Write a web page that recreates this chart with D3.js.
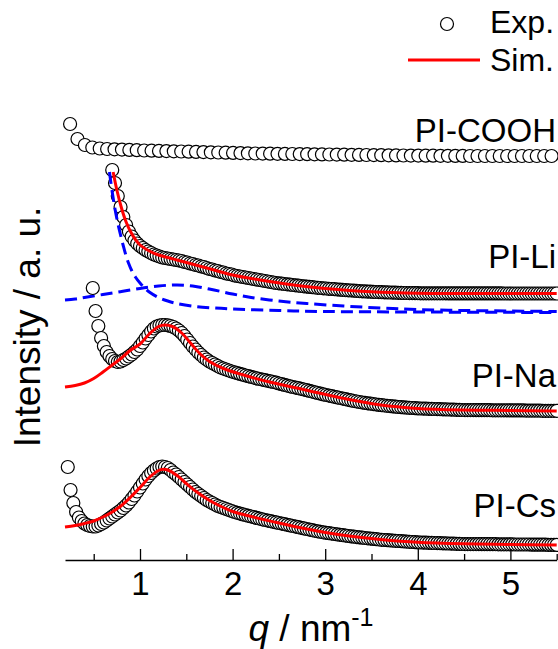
<!DOCTYPE html>
<html>
<head>
<meta charset="utf-8">
<script src="https://cdn.jsdelivr.net/npm/d3@7/dist/d3.min.js"></script>
<style>
body{margin:0;background:#fff;}
svg text{font-family:"Liberation Sans",Arial,sans-serif;fill:#000;}
</style>
</head>
<body>
<div class="plot"></div>
<script>
// q grid of the dense scans (nm^-1)
var qExp=[0.22,0.25,0.28,0.31,0.34,0.37,0.40,0.43,0.46,0.49,
  0.52,0.55,0.58,0.61,0.64,0.67,0.70,0.73,0.76,0.79,
  0.82,0.85,0.88,0.91,0.94,0.97,1.00,1.03,1.06,1.09,
  1.12,1.15,1.18,1.21,1.24,1.27,1.30,1.33,1.36,1.39,
  1.42,1.45,1.48,1.51,1.54,1.57,1.60,1.63,1.66,1.69,
  1.72,1.75,1.78,1.81,1.84,1.87,1.90,1.93,1.96,1.99,
  2.02,2.05,2.08,2.11,2.14,2.17,2.20,2.23,2.26,2.29,
  2.32,2.35,2.38,2.41,2.44,2.47,2.50,2.53,2.56,2.59,
  2.62,2.65,2.68,2.71,2.74,2.77,2.80,2.83,2.86,2.89,
  2.92,2.95,2.98,3.01,3.04,3.07,3.10,3.13,3.16,3.19,
  3.22,3.25,3.28,3.31,3.34,3.37,3.40,3.43,3.46,3.49,
  3.52,3.55,3.58,3.61,3.64,3.67,3.70,3.73,3.76,3.79,
  3.82,3.85,3.88,3.91,3.94,3.97,4.00,4.03,4.06,4.09,
  4.12,4.15,4.18,4.21,4.24,4.27,4.30,4.33,4.36,4.39,
  4.42,4.45,4.48,4.51,4.54,4.57,4.60,4.63,4.66,4.69,
  4.72,4.75,4.78,4.81,4.84,4.87,4.90,4.93,4.96,4.99,
  5.02,5.05,5.08,5.11,5.14,5.17,5.20,5.23,5.26,5.29,
  5.32,5.35,5.38,5.41,5.44,5.47,5.50];

// PI-COOH scan (coarser grid)
var qCooh=[0.245,0.325,0.405,0.485,0.565,0.645,0.725,0.805,0.885,0.965,
  1.045,1.125,1.205,1.285,1.365,1.445,1.525,1.605,1.685,1.765,
  1.845,1.925,2.005,2.085,2.165,2.245,2.325,2.405,2.485,2.565,
  2.645,2.725,2.805,2.885,2.965,3.045,3.125,3.205,3.285,3.365,
  3.445,3.525,3.605,3.685,3.765,3.845,3.925,4.005,4.085,4.165,
  4.245,4.325,4.405,4.485,4.565,4.645,4.725,4.805,4.885,4.965,
  5.045,5.125,5.205,5.285,5.365,5.445];
var coohExp=[436,421,415,412.5,411.5,411,410.7,410.4,410.1,409.8,
  409.5,409.3,409.1,408.9,408.7,408.5,408.3,408.1,407.9,407.7,
  407.5,407.3,407.1,406.9,406.7,406.5,406.4,406.3,406.2,406.1,
  406,405.9,405.8,405.7,405.6,405.5,405.4,405.3,405.2,405.1,
  405,404.9,404.8,404.7,404.6,404.5,404.4,404.4,404.3,404.3,
  404.2,404.2,404.1,404.1,404,404,404,404,404,404,
  404,404,404,404,404,404];

// PI-Li, starts at q = 0.70
var liStart=0.70;
var liExp=[390,377,364,353,
  343,335,328.5,323.5,319.5,316.5,314,312,310,308.5,
  307,305.5,304.5,303.5,302.5,302,301.5,301,300.5,300,
  299.5,299,298,297.5,296.5,296,295,294.5,293.5,293,
  292,291,290.5,289.5,289,288,287.5,286.5,286,285.5,
  284.5,284,283.5,283,282.5,282,281.5,281,280.5,280,
  279.5,279,278.5,278,277.5,277,276.7,276.4,276,275.7,
  275.4,275,274.7,274.4,274,273.7,273.4,273.1,272.8,272.5,
  272.2,272,271.7,271.5,271.2,271,270.8,270.5,270.3,270.1,
  269.9,269.7,269.5,269.3,269.1,268.9,268.7,268.6,268.4,268.3,
  268.1,268,267.9,267.8,267.7,267.6,267.5,267.4,267.3,267.2,
  267.1,267,267,266.9,266.9,266.8,266.8,266.7,266.7,266.7,
  266.7,266.7,266.7,266.7,266.7,266.7,266.7,266.6,266.6,266.6,
  266.6,266.6,266.6,266.6,266.6,266.6,266.6,266.6,266.6,266.6,
  266.6,266.6,266.6,266.6,266.6,266.6,266.6,266.5,266.5,266.5,
  266.5,266.5,266.5,266.5,266.5,266.5,266.5,266.5,266.5,266.5,
  266.5,266.5,266.5,266.5,266.5,266.5,266.5];

// PI-Na, starts at q = 0.49
var naStart=0.49;
var naExp=[272,
  249,234,222,214,208,204,201,199,198,198.5,
  200,201.5,203.5,205.5,208,210.5,214,217.5,221.5,225,
  228.5,231.5,233.5,234.5,235,235,234.7,234,233,231.5,
  229.5,227,224,220.5,217,213.5,210.5,207.5,205,202.5,
  200.5,198.5,197,195.5,194,192.5,191.5,190.5,189.5,188.5,
  187.7,186.9,186.1,185.3,184.5,183.8,183.1,182.4,181.7,181,
  180.4,179.8,179.2,178.6,178,177.4,176.5,175.8,175.1,174.4,
  173.7,173,172.4,171.8,171.2,170.5,169.8,169.1,168.4,167.7,
  167,166.3,165.6,165,164.4,163.8,163.2,162.6,162,161.4,
  160.8,160.2,159.6,159,158.5,158,157.5,157.1,156.7,156.3,
  155.9,155.5,155.1,154.8,154.5,154.2,153.9,153.6,153.3,153,
  152.8,152.6,152.4,152.2,152,151.8,151.6,151.5,151.4,151.3,
  151.2,151.1,151,150.9,150.8,150.7,150.6,150.5,150.4,150.3,
  150.2,150.1,150,149.9,149.9,149.9,149.9,149.8,149.8,149.8,
  149.8,149.8,149.8,149.7,149.7,149.7,149.7,149.7,149.7,149.6,
  149.6,149.6,149.6,149.6,149.6,149.4,149.4,149.4,149.4,149.4,
  149.4,149.2,149.2,149.2,149.2,149.2,149.2];

// PI-Cs, starts at q = 0.22
var csStart=0.22;
var csExp=[93,70,57,48,42.5,39,36.5,35,34,33.5,
  33.5,34.5,36,37.5,39.5,41.5,43.5,45.5,47.5,49.5,
  52,54.5,57.5,61,64.5,68.5,72.5,76.5,80.5,84,
  87,89.5,91.5,93,93.5,93,92,90,87.5,85.5,
  83,80.5,78,75.5,73,70.5,68,66,64,62,
  60,58.5,57,55.5,54,53,52,51,50,49,
  48,47.2,46.4,45.6,44.9,44.2,43.5,42.8,42.1,41.4,
  40.7,40,39.4,38.8,38.2,37.6,37,36.4,35.8,35.2,
  34.6,34,33.4,32.8,32.2,31.6,31,30.4,29.8,29.2,
  28.7,28.2,27.7,27.2,26.8,26.4,26,25.6,25.2,24.8,
  24.4,24,23.6,23.3,22.9,22.6,22.3,22,21.7,21.4,
  21.1,20.8,20.5,20.2,20,19.8,19.6,19.4,19.2,19,
  18.8,18.6,18.4,18.2,18,17.8,17.6,17.5,17.4,17.3,
  17.2,17.1,17,16.9,16.8,16.7,16.6,16.5,16.4,16.3,
  16.2,16.1,16,15.9,15.9,15.9,15.9,15.9,15.9,15.8,
  15.8,15.8,15.8,15.8,15.8,15.7,15.7,15.7,15.7,15.7,
  15.7,15.5,15.5,15.5,15.5,15.5,15.5,15.3,15.3,15.3,
  15.3,15.3,15.3,15.1,15.1,15.1,15.1];

// simulated curves
var liSimQ=[0.71,0.75,0.80,0.85,0.90,0.95,1.00,1.10,1.20,1.30,1.40,1.50,1.60,1.80,2.00,2.30,2.70,3.00,3.50,4.00,4.50,5.50];
var liSim=[388,370,352,338,328,320.5,315,309,305,302.5,300,297.5,295,290,285,280,274.4,271.5,268.2,266.8,266.6,266.5];
var naSimQ=[0.19,0.30,0.40,0.50,0.60,0.70,0.80,0.90,1.00,1.10,1.20,1.27,1.35,1.45,1.55,1.65,1.75,1.90,2.10,2.40,2.80,3.20,3.60,4.00,4.50,5.00,5.50];
var naSim=[173,174.5,177,181.5,188,195,202,210,216,226,233.5,235,233.5,227,216.5,206,198.5,191.5,185.5,178,169.8,161.6,155,151.6,150,149.5,149];
var csSimQ=[0.19,0.30,0.40,0.50,0.60,0.70,0.80,0.90,1.00,1.10,1.20,1.25,1.30,1.40,1.50,1.60,1.70,1.80,1.90,2.00,2.20,2.50,2.80,3.00,3.30,3.60,4.00,4.50,5.00,5.50];
var csSim=[33,34.5,36.5,39,43,48,54.5,63,72.5,82.5,89.5,90.7,90,84.5,76.5,69,62.5,57,52.5,48.5,43.5,37,31,27.5,23.5,20.5,17.7,16.2,15.6,15];

// PI-Li fit components (blue dashed)
var liFastQ=[0.67,0.70,0.73,0.76,0.79,0.82,0.85,0.88,0.91,0.95,1.00,1.05,1.10,1.20,1.30,1.40,1.60,1.80,2.00,2.50,3.00,4.00,5.50];
var liFast=[388,368,351,337,325,314,304,296,289.5,283,277,272,268,262.5,259,256.5,253.5,252,251,249.5,248.5,248,247.5];
var liPeakQ=[0.19,0.30,0.40,0.60,0.80,1.00,1.20,1.40,1.60,1.80,2.00,2.20,2.50,2.80,3.20,3.60,4.00,4.50,5.00,5.50];
var liPeak=[260,261,262.5,265.5,268.5,271.5,274,275,273.5,270,266,262.5,259,256.5,254,252,250.5,249.5,249,248.5];

var xTicks=[1,2,3,4,5];
var xMinor=[0.5,1.5,2.5,3.5,4.5,5.5];
var labels=[["PI-COOH",142],["PI-Li",268],["PI-Na",387],["PI-Cs",517]];

var svg=d3.select(".plot").append("svg")
  .attr("width",558)
  .attr("height",649);

var x=d3.scaleLinear().domain([0.19,5.5]).range([65,556.7]);
var y=d3.scaleLinear().domain([0,500]).range([560,60]);

function pts(start,vals){
  var i0=qExp.findIndex(function(q){return Math.abs(q-start)<1e-6});
  return vals.map(function(v,i){return [qExp[i0+i],v]}).filter(function(d){return d[0]!=null});
}
function zip(qs,vals){
  return qs.map(function(q,i){return [q,vals[i]]});
}

var line=d3.line()
  .x(function(d){return x(d[0])})
  .y(function(d){return y(d[1])})
  .curve(d3.curveCatmullRom.alpha(0.5));

function circles(data){
  svg.append("g").selectAll("circle")
    .data(data)
    .enter()
    .append("circle")
    .attr("cx",function(d){return x(d[0])})
    .attr("cy",function(d){return y(d[1])})
    .attr("r",6.5)
    .attr("fill","#fff")
    .attr("stroke","#000")
    .attr("stroke-width",1.2);
}
function simLine(data){
  svg.append("path")
    .datum(data)
    .attr("d",line)
    .attr("fill","none")
    .attr("stroke","#ff0000")
    .attr("stroke-width",3);
}
function dashLine(data){
  svg.append("path")
    .datum(data)
    .attr("d",line)
    .attr("fill","none")
    .attr("stroke","#0000ff")
    .attr("stroke-width",3)
    .attr("stroke-dasharray","12,6");
}

circles(zip(qCooh,coohExp));
circles(pts(liStart,liExp));
simLine(zip(liSimQ,liSim));
dashLine(zip(liFastQ,liFast));
dashLine(zip(liPeakQ,liPeak));
circles(pts(naStart,naExp));
simLine(zip(naSimQ,naSim));
circles(pts(csStart,csExp));
simLine(zip(csSimQ,csSim));

// x axis, ticks pointing inward
var gx=svg.append("g")
  .attr("transform","translate(0,560)")
  .call(d3.axisBottom(x).tickValues(xTicks).tickSizeInner(-11).tickSizeOuter(0).tickPadding(12).tickFormat(d3.format("d")));
gx.select(".domain").attr("stroke-width",1.3);
gx.selectAll(".tick line").attr("stroke-width",1.3);
gx.selectAll("text").attr("font-size",33).attr("font-family","'Liberation Sans',Arial,sans-serif");

var gm=svg.append("g")
  .attr("transform","translate(0,560)")
  .call(d3.axisBottom(x).tickValues(xMinor).tickSize(-6).tickFormat(""));
gm.select(".domain").remove();
gm.selectAll(".tick line").attr("stroke-width",1.3);

// axis titles
var xt=svg.append("text")
  .attr("x",311)
  .attr("y",641)
  .attr("text-anchor","middle")
  .attr("font-size",37);
xt.append("tspan").attr("font-style","italic").text("q");
xt.append("tspan").text(" / nm");
xt.append("tspan").attr("font-size",25).attr("dy",-15).text("-1");

svg.append("text")
  .attr("transform","translate(40,327) rotate(-90)")
  .attr("text-anchor","middle")
  .attr("font-size",37)
  .text("Intensity / a. u.");

// series labels
svg.selectAll(".lab")
  .data(labels)
  .enter()
  .append("text")
  .attr("class","lab")
  .attr("x",556)
  .attr("y",function(d){return d[1]})
  .attr("text-anchor","end")
  .attr("font-size",33)
  .text(function(d){return d[0]});

// legend
svg.append("circle")
  .attr("cx",447).attr("cy",24).attr("r",6.5)
  .attr("fill","#fff").attr("stroke","#000").attr("stroke-width",1.2);
svg.append("text").attr("x",490).attr("y",33).attr("font-size",32).text("Exp.");
svg.append("line")
  .attr("x1",408).attr("x2",480).attr("y1",60).attr("y2",60)
  .attr("stroke","#ff0000").attr("stroke-width",3);
svg.append("text").attr("x",490).attr("y",71).attr("font-size",32).text("Sim.");
</script>
</body>
</html>
